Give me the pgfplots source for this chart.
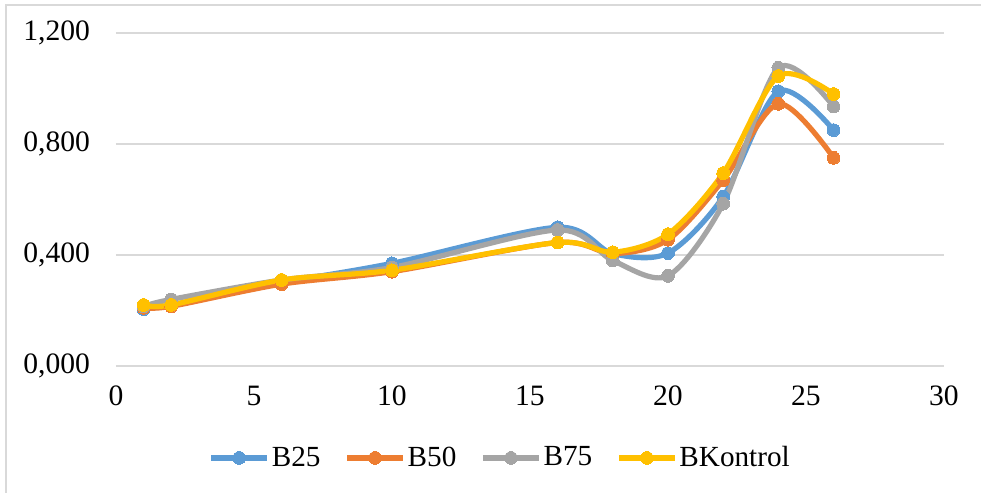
\documentclass[border=0pt]{standalone}
\usepackage{pgfplots}
\pgfplotsset{compat=1.18}
\usepackage{fontspec}
\setmainfont{Liberation Serif}

\definecolor{cBa}{HTML}{5B9BD5}
\definecolor{cBb}{HTML}{ED7D31}
\definecolor{cBc}{HTML}{A5A5A5}
\definecolor{cBk}{HTML}{FFC000}
\definecolor{gridgray}{HTML}{D9D9D9}

\begin{document}
\begin{tikzpicture}[x=1pt,y=1pt]
\useasboundingbox (-58,-63.5) rectangle (432.5,183);
% chart area frame
\draw[color=gridgray, line width=0.8pt] (-55,-70) -- (-55,180.5) -- (440,180.5);
\begin{axis}[
  at={(0,0)}, anchor=south west,
  scale only axis, width=414pt, height=166.5pt,
  xmin=0, xmax=30, ymin=0, ymax=1.2,
  axis line style={draw=none},
  tick style={draw=none},
  ymajorgrids,
  grid style={color=gridgray, line width=0.8pt},
  xtick={0,5,10,15,20,25,30},
  xticklabels={0,5,10,15,20,25,30},
  ytick={0,0.4,0.8,1.2},
  yticklabels={{0,000},{0,400},{0,800},{1,200}},
  ticklabel style={font=\fontsize{14.8}{17}\selectfont},
  yticklabel style={xshift=-9.5pt},
  xticklabel style={yshift=-6.5pt},
  clip=false,
  legend style={at={(0.464,-0.276)}, anchor=center, draw=none, fill=none,
    legend columns=4, font=\fontsize{14.6}{17}\selectfont,
    nodes={inner sep=1pt},
    /tikz/every even column/.append style={column sep=11pt}},
  legend image code/.code={\draw[mark repeat=2,mark phase=2] plot coordinates {(0pt,0pt)(14pt,0pt)(28pt,0pt)};},
  every axis plot/.append style={smooth, line width=2.6pt, mark=*, mark size=3.2pt},
]
\addplot[color=cBa, mark options={fill=cBa, draw=cBa, line width=0pt}] coordinates {
  (1,0.205) (2,0.220) (6,0.300) (10,0.370) (16,0.500) (18,0.405) (20,0.407) (22,0.610) (24,0.990) (26,0.850)};
\addlegendentry{B25}
\addplot[color=cBb, mark options={fill=cBb, draw=cBb, line width=0pt}] coordinates {
  (1,0.210) (2,0.215) (6,0.295) (10,0.340) (16,0.445) (18,0.405) (20,0.455) (22,0.670) (24,0.945) (26,0.750)};
\addlegendentry{B50}
\addplot[color=cBc, mark options={fill=cBc, draw=cBc, line width=0pt}] coordinates {
  (1,0.215) (2,0.240) (6,0.310) (10,0.355) (16,0.490) (18,0.380) (20,0.325) (22,0.585) (24,1.075) (26,0.935)};
\addlegendentry{B75}
\addplot[color=cBk, mark options={fill=cBk, draw=cBk, line width=0pt}] coordinates {
  (1,0.220) (2,0.220) (6,0.310) (10,0.345) (16,0.445) (18,0.410) (20,0.475) (22,0.695) (24,1.045) (26,0.980)};
\addlegendentry{BKontrol}
\end{axis}
\end{tikzpicture}
\end{document}
